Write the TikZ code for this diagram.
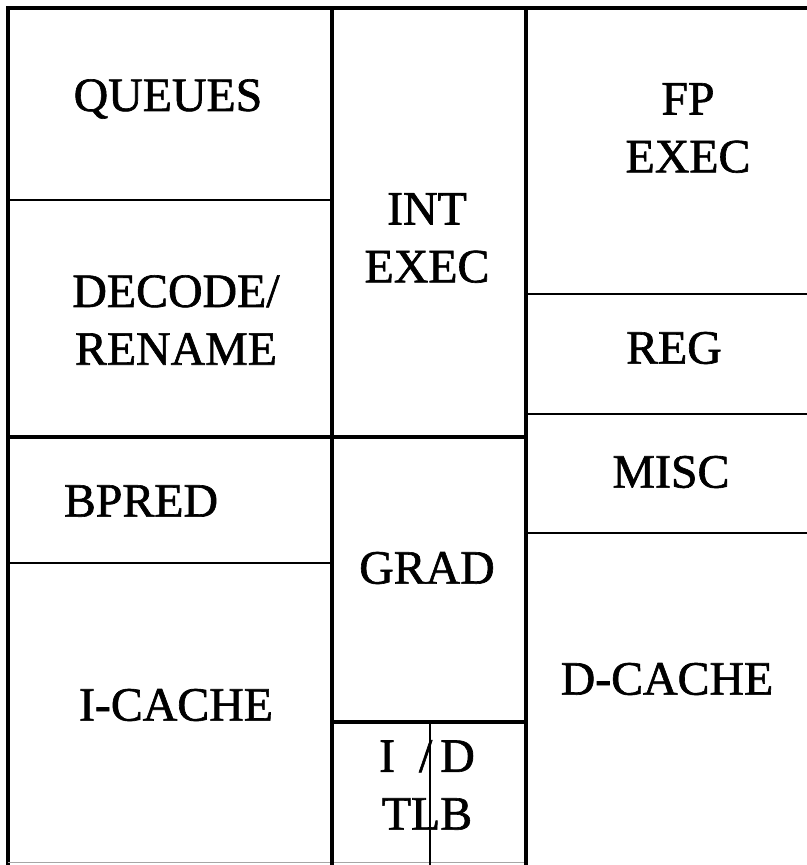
\documentclass[tikz,border=0pt]{standalone}
\usepackage{fontspec}
\setmainfont{Liberation Serif}
\newfontfamily\lblfont[FakeBold=1.3]{Liberation Serif}
\begin{document}
\begin{tikzpicture}[x=1bp,y=-1bp,
  wall/.style={line width=3.4bp,black},
  thin/.style={line width=2.8bp,black},
  lbl/.style={font=\lblfont\fontsize{48}{58}\selectfont,inner sep=0pt,align=center,text=black}]
\useasboundingbox (0,0) rectangle (807,865);
\fill[white] (0,0) rectangle (807,865);
% outer lines
\draw[wall] (6,8) -- (807,8);
\draw[wall] (8,8) -- (8,865);
\draw[line width=1.5bp,gray!70] (8,862.5) -- (526,862.5);
% column dividers
\draw[wall] (332,8) -- (332,865);
\draw[wall] (526,8) -- (526,865);
% left column
\draw[thin] (8,200) -- (332,200);
\draw[wall] (6,437) -- (526,437);
\draw[thin] (8,563) -- (332,563);
% middle column
\draw[wall] (332,722) -- (526,722);
\draw[thin] (430,722) -- (430,865);
% right column
\draw[thin] (526,294) -- (807,294);
\draw[thin] (526,414) -- (807,414);
\draw[thin] (526,533) -- (807,533);
% labels
\node[lbl] (queues) at (168,99) {QUEUES};
\node[lbl] (decode) at (176,320) {DECODE/\\RENAME};
\node[lbl] (bpred) at (141,501) {BPRED};
\node[lbl] (icache) at (176,705) {I-CACHE};
\node[lbl] (intexec) at (427,238) {INT\\EXEC};
\node[lbl] (grad) at (427,568) {GRAD};
\node[lbl] (tlb) at (427,785) {I\hspace{24bp}/\hspace{8bp}D\\TLB};
\node[lbl] (fpexec) at (688,128) {FP\\EXEC};
\node[lbl] (reg) at (674,348) {REG};
\node[lbl] (misc) at (671,472) {MISC};
\node[lbl] (dcache) at (667,679) {D-CACHE};
\end{tikzpicture}
\end{document}
